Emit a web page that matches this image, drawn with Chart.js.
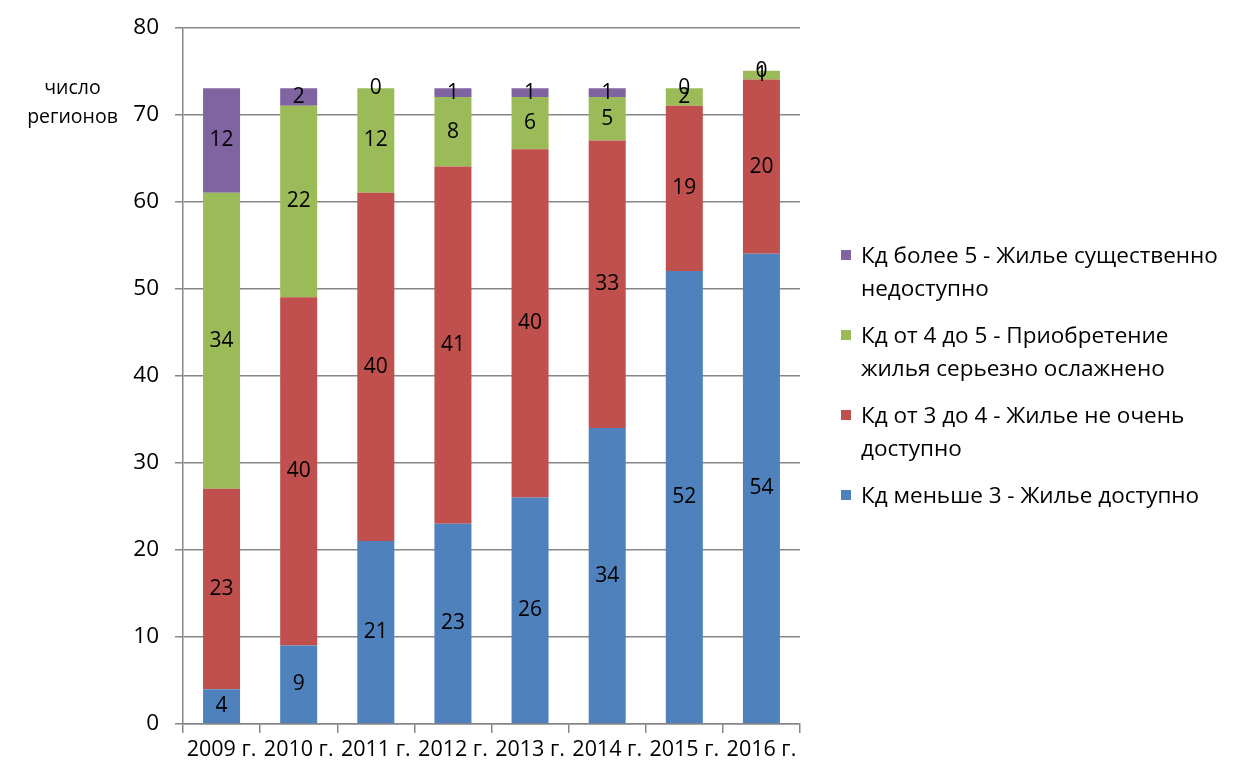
<!DOCTYPE html>
<html lang="ru">
<head>
<meta charset="utf-8">
<script src="https://cdn.jsdelivr.net/npm/chart.js@4"></script>
<style>
  html, body { margin: 0; padding: 0; background: #fff; }
  #wrap { position: relative; width: 1240px; height: 769px; font-family: 'Open Sans', sans-serif; color: #000; }
  #chart { position: absolute; left: 0; top: 0; }
  #ytitle { position: absolute; left: 20px; top: 72px; width: 105px; text-align: center; font-size: 19.5px; line-height: 29px; }
  #legend { position: absolute; left: 841px; top: 238px; font-size: 22.5px; line-height: 33px; }
  .item { display: flex; align-items: flex-start; margin-bottom: 14px; }
  .box { width: 10px; height: 10px; margin-top: 12px; margin-right: 10px; flex: none; }
</style>
</head>
<body>
<div id="wrap">
  <canvas id="chart" width="1240" height="769"></canvas>
  <div id="ytitle">число<br>регионов</div>
  <div id="legend"></div>
</div>
<script>
const years = ['2009 г.', '2010 г.', '2011 г.', '2012 г.', '2013 г.', '2014 г.', '2015 г.', '2016 г.']

// снизу вверх
const lessThan3 = [4, 9, 21, 23, 26, 34, 52, 54]
const from3to4 = [23, 40, 40, 41, 40, 33, 19, 20]
const from4to5 = [34, 22, 12, 8, 6, 5, 2, 1]
const moreThan5 = [12, 2, 0, 1, 1, 1, 0, 0]

const yTicks = [0, 10, 20, 30, 40, 50, 60, 70, 80]

const seriesNames = [
  'Кд меньше 3 - Жилье доступно',
  'Кд от 3 до 4 - Жилье не очень доступно',
  'Кд от 4 до 5 - Приобретение жилья серьезно ослажнено',
  'Кд более 5 - Жилье существенно недоступно'
]
// как переносится текст в легенде
const legendLines = [
  ['Кд меньше 3 - Жилье доступно'],
  ['Кд от 3 до 4 - Жилье не очень', 'доступно'],
  ['Кд от 4 до 5 - Приобретение', 'жилья серьезно ослажнено'],
  ['Кд более 5 - Жилье существенно', 'недоступно']
]
const colors = ['#4F81BD', '#C0504D', '#9BBB59', '#8064A2']

const FONT = "'Open Sans', sans-serif"

// подписи значений по центру сегментов
const segmentLabels = {
  id: 'segmentLabels',
  afterDatasetsDraw(chart) {
    const ctx = chart.ctx
    ctx.save()
    ctx.font = `21px ${FONT}`
    ctx.fillStyle = '#000'
    ctx.textAlign = 'center'
    ctx.textBaseline = 'middle'
    chart.data.datasets.forEach((ds, i) => {
      chart.getDatasetMeta(i).data.forEach((bar, j) => {
        const p = bar.getProps(['x', 'y', 'base'], true)
        ctx.fillText(String(ds.data[j]), p.x, (p.y + p.base) / 2)
      })
    })
    ctx.restore()
  }
}

const datasets = [lessThan3, from3to4, from4to5, moreThan5].map((data, i) => ({
  label: seriesNames[i],
  data,
  backgroundColor: colors[i],
  borderWidth: 0,
  categoryPercentage: 0.48,
  barPercentage: 1
}))

new Chart(document.getElementById('chart'), {
  type: 'bar',
  data: { labels: years, datasets },
  options: {
    responsive: false,
    animation: false,
    layout: { padding: { top: 27, right: 440, left: 0, bottom: 0 } },
    scales: {
      x: {
        stacked: true,
        offset: true,
        grid: { offset: true, drawOnChartArea: false, color: '#868686', tickLength: 9, lineWidth: 1.5 },
        border: { color: '#868686', width: 1.5 },
        ticks: { font: { family: FONT, size: 21.5 }, color: '#000', autoSkip: false, maxRotation: 0, padding: 4 },
        afterFit: (scale) => { scale.height = 45 }
      },
      y: {
        stacked: true,
        min: 0,
        max: 80,
        afterBuildTicks: (scale) => { scale.ticks = yTicks.map(v => ({ value: v })) },
        grid: { color: '#868686', tickLength: 8, lineWidth: 1.5 },
        border: { color: '#868686', width: 1.5 },
        ticks: { font: { family: FONT, size: 22.5, lineHeight: 1 }, color: '#000', padding: 16 },
        afterFit: (scale) => { scale.width = 183 }
      }
    },
    plugins: {
      legend: { display: false },
      tooltip: { enabled: false }
    }
  },
  plugins: [segmentLabels]
})

// легенда справа (порядок сверху вниз как в оригинале)
const legendEl = document.getElementById('legend')
for (let i = colors.length - 1; i >= 0; i--) {
  const item = document.createElement('div')
  item.className = 'item'
  item.innerHTML = `<span class="box" style="background:${colors[i]}"></span><span>${legendLines[i].join('<br>')}</span>`
  legendEl.appendChild(item)
}
</script>
</body>
</html>
